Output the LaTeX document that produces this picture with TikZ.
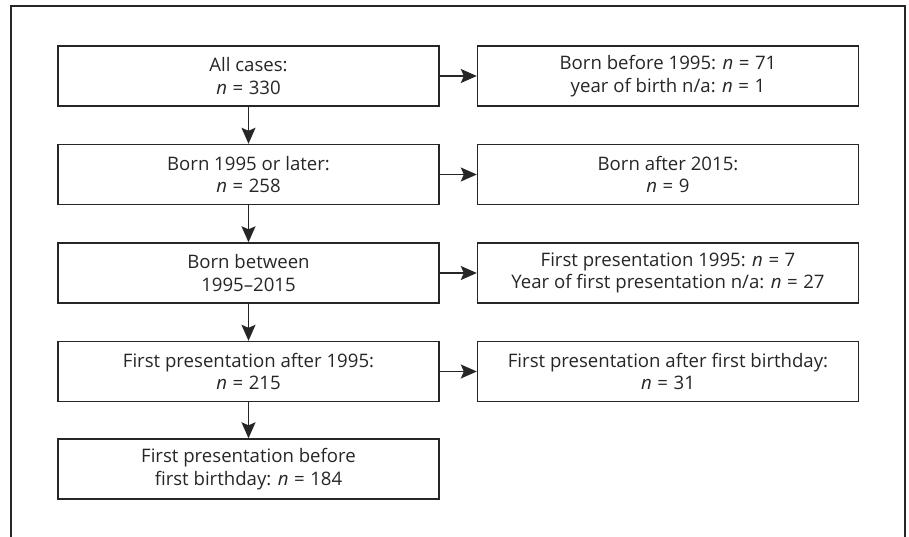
\documentclass[tikz,border=0pt]{standalone}
\usepackage{fontspec}
\setmainfont{Open Sans}
\usetikzlibrary{arrows.meta}
\newcommand{\eqs}{\hspace{0.3em}=\hspace{0.3em}}
\begin{document}
\begin{tikzpicture}[x=1pt,y=-1pt,
  box/.style={draw=black!85, line width=1.4pt, minimum width=381pt, minimum height=60pt,
    inner sep=0pt, align=center, font=\fontsize{18.6}{22.5}\selectfont, text=black!85},
  arr/.style={draw=black!85, line width=1.4pt, -{Stealth[length=16pt,width=14pt,inset=3pt]}}]
\useasboundingbox (0,0) rectangle (909,537);
\draw[black!85, line width=1.3pt] (11,537) -- (11,6) -- (905,6) -- (905,537);
\node[box] (a) at (248.5,76) {All cases:\\\textit{n}\eqs 330};
\node[box] (b) at (248.5,174.5) {Born 1995 or later:\\\textit{n}\eqs 258};
\node[box] (c) at (248.5,273) {Born between\\1995–2015};
\node[box] (d) at (248.5,371.5) {First presentation after 1995:\\\textit{n}\eqs 215};
\node[box] (e) at (248.5,469) {First presentation before\\ first birthday: \textit{n}\eqs 184};
\node[box] (ra) at (668,76) {Born before 1995: \textit{n}\eqs 71\\year of birth n/a: \textit{n}\eqs 1};
\node[box] (rb) at (668,174.5) {Born after 2015:\\\textit{n}\eqs 9};
\node[box] (rc) at (668,273) {First presentation 1995: \textit{n}\eqs 7\\Year of first presentation n/a: \textit{n}\eqs 27};
\node[box] (rd) at (668,371.5) {First presentation after first birthday:\\\textit{n}\eqs 31};
\draw[arr] (a) -- (b);
\draw[arr] (b) -- (c);
\draw[arr] (c) -- (d);
\draw[arr] (d) -- (e);
\draw[arr] (a) -- (ra);
\draw[arr] (b) -- (rb);
\draw[arr] (c) -- (rc);
\draw[arr] (d) -- (rd);
\end{tikzpicture}
\end{document}
